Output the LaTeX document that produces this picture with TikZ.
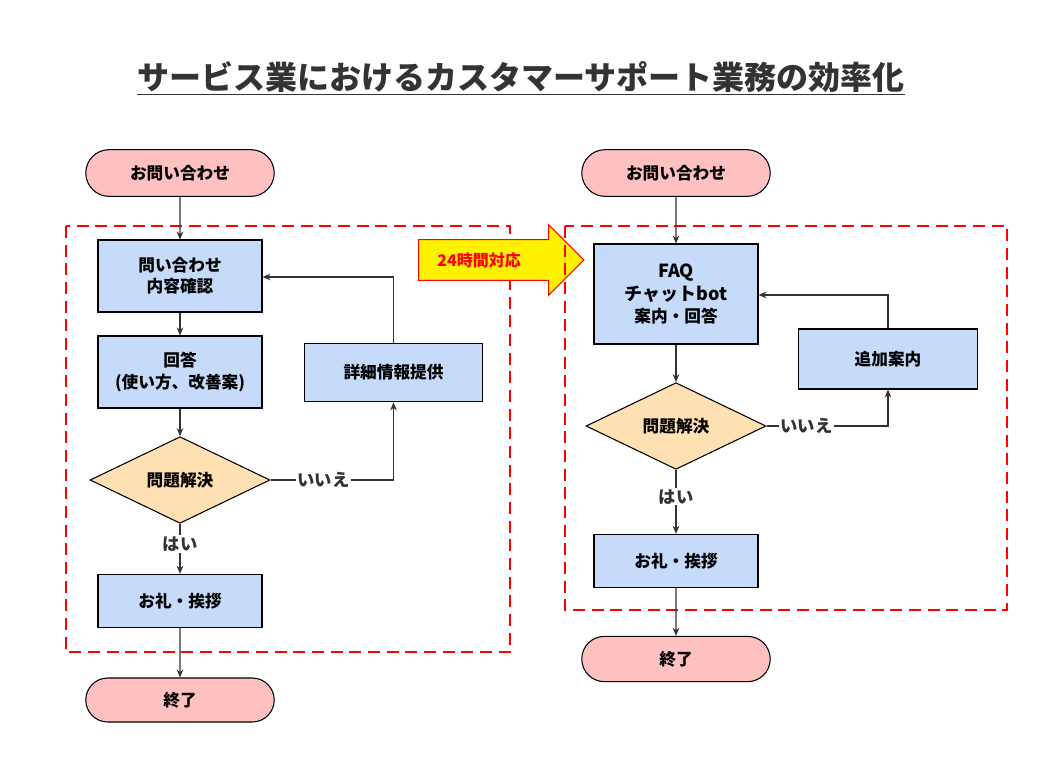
\documentclass[tikz,border=0pt]{standalone}
\usepackage{fontspec}
\setmainfont{Noto Sans CJK JP}
\usetikzlibrary{shapes.geometric,shapes.arrows,shapes.misc,arrows.meta,positioning}
\definecolor{pillfill}{HTML}{FFC0C0}
\definecolor{boxfill}{HTML}{C6DBFA}
\definecolor{decfill}{HTML}{FFE0B2}
\definecolor{linegray}{HTML}{333333}
\newcommand{\nodefont}{\bfseries\fontsize{12.5}{16}\selectfont}
\tikzset{
  pill/.style={rounded rectangle,draw=black,thick,fill=pillfill,minimum width=148pt,minimum height=35pt,font=\nodefont},
  proc/.style={rectangle,draw=black,thick,fill=boxfill,align=center,font=\nodefont,inner sep=2pt},
  decision/.style={diamond,draw=black,thick,fill=decfill,aspect=2.1,minimum width=135pt,minimum height=65pt,inner sep=0pt,font=\nodefont},
  flow/.style={draw=linegray,thick,-{Stealth[length=6pt,width=5pt]}},
  frame/.style={draw=red,thick,dash pattern=on 9pt off 5pt},
  lbl/.style={font=\bfseries\fontsize{13}{16}\selectfont,text=linegray,fill=white,inner sep=1pt}
}
\begin{document}
\begin{tikzpicture}[x=0.75pt,y=-0.75pt]
  \useasboundingbox (0,0) rectangle (1060,776);
  \node[font=\bfseries\fontsize{24}{28}\selectfont,text=linegray] (title) at (521,78) {\underline{サービス業におけるカスタマーサポート業務の効率化}};

  % left flow
  \draw[frame] (66,226) rectangle (510,652);
  \node[pill] (lstart) at (180,173) {お問い合わせ};
  \node[proc,minimum width=123pt,minimum height=54pt] (lcheck) at (180,276) {問い合わせ\\内容確認};
  \node[proc,minimum width=123pt,minimum height=54pt] (lans) at (180,372) {回答\\(使い方、改善案)};
  \node[decision] (ldec) at (180,480) {問題解決};
  \node[proc,minimum width=123pt,minimum height=40pt] (lthanks) at (180,601) {お礼・挨拶};
  \node[pill,minimum height=33pt] (lend) at (180,700) {終了};
  \node[proc,minimum width=134pt,minimum height=44pt] (ldetail) at (393.5,372.5) {詳細情報提供};
  \coordinate (lturn) at (393.5,277);
  \draw[flow] (lstart) -- (lcheck);
  \draw[flow] (lcheck) -- (lans);
  \draw[flow] (lans) -- (ldec);
  \draw[flow] (ldec) -- node[lbl,pos=0.4]{はい} (lthanks);
  \draw[flow] (lthanks) -- (lend);
  \draw[flow] (ldec.east) -- node[lbl,pos=0.43]{いいえ} (ldec.east -| ldetail) -- (ldetail);
  \draw[flow] (ldetail) -- (lturn) -- (lturn -| lcheck.east);

  % arrow
  \node[single arrow,draw=red,thick,fill=yellow,minimum height=124pt,minimum width=53pt,single arrow head extend=6pt,inner sep=2pt,font=\bfseries\fontsize{12}{14}\selectfont,text=red,anchor=west,align=left] (hours) at (418,260) {24時間対応\hspace{18pt}};

  % right flow
  \draw[frame] (565,226) rectangle (1007,610);
  \node[pill] (rstart) at (676,173) {お問い合わせ};
  \node[proc,minimum width=123pt,minimum height=75pt,font=\bfseries\fontsize{13.5}{17}\selectfont] (rbot) at (676,294) {FAQ\\チャットbot\\{\nodefont 案内・回答}};
  \node[decision] (rdec) at (676,426) {問題解決};
  \node[proc,minimum width=123pt,minimum height=40pt] (rthanks) at (676,561) {お礼・挨拶};
  \node[pill,minimum height=34pt] (rend) at (676,659) {終了};
  \node[proc,minimum width=134pt,minimum height=45pt] (rmore) at (888,359) {追加案内};
  \coordinate (rturn) at (888,295);
  \draw[flow] (rstart) -- (rbot);
  \draw[flow] (rbot) -- (rdec);
  \draw[flow] (rdec) -- node[lbl,pos=0.42]{はい} (rthanks);
  \draw[flow] (rthanks) -- (rend);
  \draw[flow] (rdec.east) -- node[lbl,pos=0.33]{いいえ} (rdec.east -| rmore) -- (rmore);
  \draw[flow] (rmore) -- (rturn) -- (rturn -| rbot.east);
\end{tikzpicture}
\end{document}
